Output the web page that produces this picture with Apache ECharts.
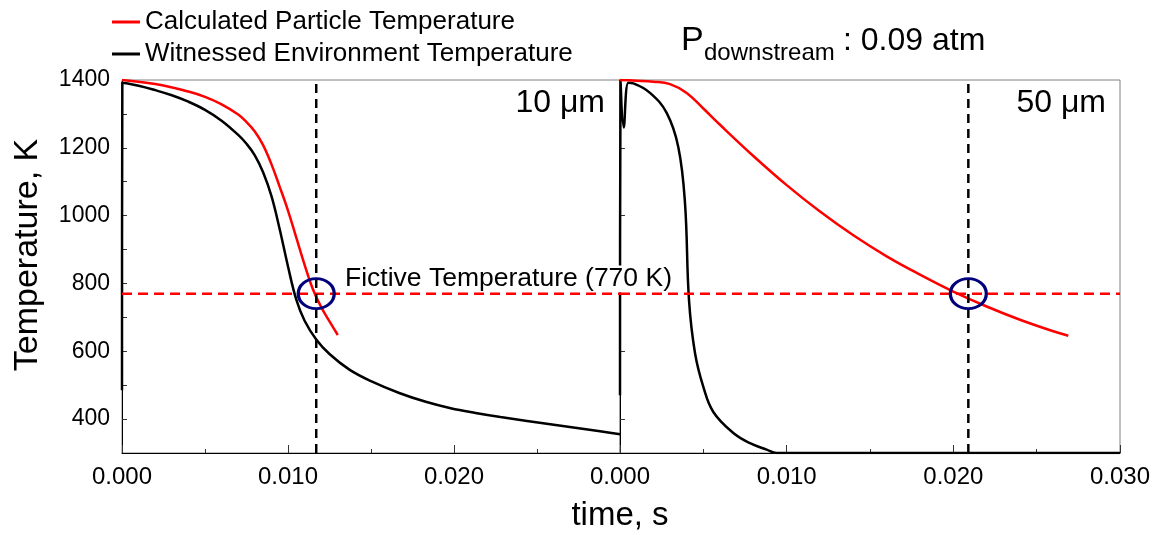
<!DOCTYPE html>
<html>
<head>
<meta charset="utf-8">
<script src="https://cdn.jsdelivr.net/npm/echarts@6/dist/echarts.min.js"></script>
<style>
  html, body { margin: 0; padding: 0; background: #ffffff; }
  #chart { width: 1156px; height: 535px; }
</style>
</head>
<body>
<div id="chart"></div>
<script>
// Cooling histories, time in s, temperature in K
const particle10um = [
  [0, 1400], [0.002, 1388], [0.004, 1366], [0.005, 1350], [0.006, 1328],
  [0.007, 1298], [0.0075, 1276], [0.008, 1248], [0.0085, 1208], [0.009, 1152],
  [0.0095, 1085], [0.010, 1015], [0.0105, 935], [0.011, 855], [0.0115, 783],
  [0.012, 730], [0.0125, 688], [0.013, 648]
];
const environment10um = [
  [0, 485], [0.00002, 1392], [0.001, 1383], [0.002, 1370], [0.003, 1355],
  [0.004, 1336], [0.005, 1312], [0.006, 1280], [0.007, 1238], [0.0075, 1212],
  [0.008, 1178], [0.0085, 1128], [0.009, 1058], [0.0095, 960], [0.010, 850],
  [0.0105, 752], [0.011, 690], [0.0117, 635], [0.0125, 592], [0.0137, 546],
  [0.015, 512], [0.0167, 477], [0.0183, 451], [0.0198, 432], [0.0213, 418],
  [0.0228, 406], [0.0258, 385], [0.0288, 364], [0.030, 355]
];
const particle50um = [
  [0, 1400], [0.001, 1398], [0.002, 1395], [0.003, 1388], [0.004, 1362],
  [0.005, 1316], [0.006, 1268], [0.008, 1176], [0.010, 1090], [0.012, 1012],
  [0.014, 942], [0.016, 880], [0.018, 826], [0.020, 776], [0.022, 732],
  [0.024, 693], [0.026, 659], [0.0269, 646]
];
const environment50um = [
  [0, 470], [0.00003, 1400], [0.00022, 1260], [0.0005, 1392], [0.0008, 1390],
  [0.0018, 1362], [0.0028, 1303], [0.0035, 1202], [0.0039, 1037], [0.00414, 751],
  [0.0045, 595], [0.005, 495], [0.0056, 421], [0.0068, 359], [0.0078, 329],
  [0.0088, 310], [0.0094, 300], [0.030, 300]
];

const fictiveTemperature = 770;          // K
const quenchTime10um = 0.0117;           // s, where particle reaches fictive T
const quenchTime50um = 0.0209;           // s
const timeRange = [0, 0.03];
const tempRange = [300, 1400];
const yLabelValues = [400, 600, 800, 1000, 1200, 1400];
const yTickLeft = [400, 500, 600, 700, 800, 900, 1000, 1100, 1200, 1300];
const yTickRight = [400, 600, 800, 1000, 1200];
const legendNames = ['Calculated Particle Temperature', 'Witnessed Environment Temperature'];

const FONT = 'Liberation Sans, Arial, sans-serif';
const RED = '#ff0000';
const BLACK = '#000000';
const NAVY = '#00007a';

function xAxisFor(gridIndex, showMax) {
  return {
    type: 'value', gridIndex, min: timeRange[0], max: timeRange[1], interval: 0.01,
    axisLine: { show: true, lineStyle: { color: BLACK, width: 1 } },
    axisTick: { show: true, inside: true, length: 8, lineStyle: { color: '#333' } },
    minorTick: { show: true, splitNumber: 2, length: 4, lineStyle: { color: '#333' } },
    axisLabel: {
      formatter: v => v.toFixed(3), showMaxLabel: showMax, showMinLabel: true,
      fontFamily: FONT, fontSize: 24, color: BLACK, margin: 12
    },
    splitLine: { show: false }
  };
}
function yAxisFor(gridIndex, ticks, labels) {
  return {
    type: 'value', gridIndex, min: tempRange[0], max: tempRange[1], interval: 100,
    axisLine: { show: true, lineStyle: { color: BLACK, width: 1 } },
    axisTick: { show: true, inside: true, length: 5, customValues: ticks, lineStyle: { color: '#333' } },
    axisLabel: labels ? {
      customValues: yLabelValues, formatter: v => String(v),
      fontFamily: FONT, fontSize: 23, color: BLACK, margin: 12
    } : { show: false },
    splitLine: { show: false }
  };
}
function curve(name, data, color, xi) {
  return {
    name, type: 'line', xAxisIndex: xi, yAxisIndex: xi, data,
    symbol: 'none', smooth: 0.4, lineStyle: { color, width: 2.5 }, itemStyle: { color },
    z: 2
  };
}
// dashed guide drawn as a two-point line
function guide(xi, pts, color, dash) {
  return {
    type: 'line', xAxisIndex: xi, yAxisIndex: xi, data: pts, z: 4,
    symbol: 'none', silent: true, legendHoverLink: false,
    lineStyle: { color, width: 2.5, type: dash }
  };
}
function ring(xi, t) {
  return {
    type: 'scatter', xAxisIndex: xi, yAxisIndex: xi, z: 6,
    data: [[t, fictiveTemperature]], symbol: 'circle', symbolSize: [36, 30],
    itemStyle: { color: 'rgba(0,0,0,0)', borderColor: NAVY, borderWidth: 3, opacity: 1 }
  };
}

const chart = echarts.init(document.getElementById('chart'), null, { renderer: 'canvas' });
chart.setOption({
  animation: false,
  backgroundColor: '#ffffff',
  textStyle: { fontFamily: FONT },
  grid: [
    { left: 122, top: 80, width: 498, height: 373, show: true, borderColor: '#808080', borderWidth: 1 },
    { left: 620, top: 80, width: 500, height: 373, show: true, borderColor: '#808080', borderWidth: 1 }
  ],
  xAxis: [xAxisFor(0, false), xAxisFor(1, true)],
  yAxis: [yAxisFor(0, yTickLeft, true), yAxisFor(1, yTickRight, false)],
  legend: {
    data: legendNames, orient: 'vertical', left: 107, top: 3,
    icon: 'rect', itemWidth: 28, itemHeight: 3, itemGap: 4,
    textStyle: { fontFamily: FONT, fontSize: 26, color: BLACK, lineHeight: 28 }
  },
  graphic: [
    { type: 'text', x: 28, y: 255, rotation: Math.PI / 2, z: 10,
      style: { text: 'Temperature, K', font: '34px ' + FONT, fill: BLACK, align: 'center', verticalAlign: 'middle' } },
    { type: 'text', x: 620, y: 516, z: 10,
      style: { text: 'time, s', font: '33px ' + FONT, fill: BLACK, align: 'center', verticalAlign: 'middle' } },
    { type: 'text', x: 605, y: 103, z: 10,
      style: { text: '10 μm', font: '32px ' + FONT, fill: BLACK, align: 'right', verticalAlign: 'middle' } },
    { type: 'text', x: 1106, y: 103, z: 10,
      style: { text: '50 μm', font: '32px ' + FONT, fill: BLACK, align: 'right', verticalAlign: 'middle' } },
    { type: 'text', x: 681, y: 41, z: 10,
      style: { text: 'P', font: '34px ' + FONT, fill: BLACK, align: 'left', verticalAlign: 'middle' } },
    { type: 'text', x: 704, y: 53, z: 10,
      style: { text: 'downstream', font: '24px ' + FONT, fill: BLACK, align: 'left', verticalAlign: 'middle' } },
    { type: 'text', x: 843, y: 41, z: 10,
      style: { text: ': 0.09 atm', font: '32px ' + FONT, fill: BLACK, align: 'left', verticalAlign: 'middle' } },
    // annotation box sits over the curves but under the dashed guides
    { type: 'text', x: 343, y: 279, z: 3,
      style: { text: 'Fictive Temperature (770 K)', font: '26.5px ' + FONT, fill: BLACK,
        align: 'left', verticalAlign: 'middle', backgroundColor: '#ffffff', padding: [0, 2, 0, 2] } }
  ],
  series: [
    curve(legendNames[1], environment10um, BLACK, 0),
    curve(legendNames[0], particle10um, RED, 0),
    curve(legendNames[1], environment50um, BLACK, 1),
    curve(legendNames[0], particle50um, RED, 1),
    guide(0, [[timeRange[0], fictiveTemperature], [timeRange[1], fictiveTemperature]], RED, [10, 6]),
    guide(1, [[timeRange[0], fictiveTemperature], [timeRange[1], fictiveTemperature]], RED, [10, 6]),
    guide(0, [[quenchTime10um, tempRange[0]], [quenchTime10um, tempRange[1]]], BLACK, [9, 6]),
    guide(1, [[quenchTime50um, tempRange[0]], [quenchTime50um, tempRange[1]]], BLACK, [9, 6]),
    ring(0, quenchTime10um),
    ring(1, quenchTime50um)
  ]
});
</script>
</body>
</html>
